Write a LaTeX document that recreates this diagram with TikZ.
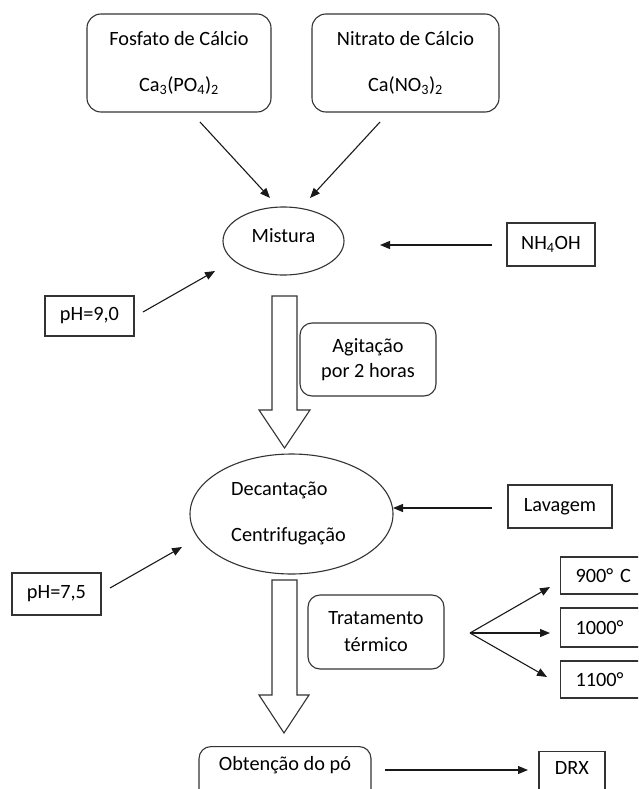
\documentclass[tikz,border=0pt]{standalone}
\usepackage{fontspec}
\setmainfont{Carlito}
\usetikzlibrary{shapes.geometric,arrows.meta}
\begin{document}
\begin{tikzpicture}[x=1pt,y=-1pt,
  every node/.style={font=\fontsize{20.3}{24}\selectfont, text=black, inner sep=0pt},
  rbox/.style={draw=black!80, line width=1.1pt, rounded corners=14pt},
  sbox/.style={draw=black!80, line width=1.1pt},
  oval/.style={draw=black!80, line width=1.1pt, ellipse},
  conn/.style={draw=black!90, line width=1.1pt, -{Triangle[length=10pt,width=8pt]}},
  blockarrow/.style={draw=black!80, line width=1.1pt, fill=white, line join=miter}]
\useasboundingbox (0,0) rectangle (638,789);
\clip (0,0) rectangle (638,789);

% top boxes
\node[rbox, minimum width=184, minimum height=98, align=center] (fosfato) at (179,63)
  {Fosfato de Cálcio\\[22pt]Ca\textsubscript{3}(PO\textsubscript{4})\textsubscript{2}};
\node[rbox, minimum width=187, minimum height=98, align=center] (nitrato) at (405.5,63)
  {Nitrato de Cálcio\\[22pt]Ca(NO\textsubscript{3})\textsubscript{2}};

% Mistura
\node[oval, minimum width=121, minimum height=68] (mistura) at (283.5,241) {};
\node (misturat) at (283.5,236) {Mistura};
\node[sbox, minimum width=88, minimum height=43] (nh4oh) at (551,244.5) {NH\textsubscript{4}OH};
\node[sbox, minimum width=89, minimum height=40] (ph9) at (89.5,316) {pH=9,0};

\coordinate (f1) at (200,122);
\coordinate (m1) at (270,198);
\coordinate (n1) at (380,122);
\coordinate (m2) at (310,198);
\coordinate (m3) at (215,271);
\coordinate (p9) at (143,312);
\coordinate (m4) at (380,245);
\coordinate (h4) at (492,245);
\draw[conn] (f1) -- (m1);
\draw[conn] (n1) -- (m2);
\draw[conn] (p9) -- (m3);
\draw[conn] (h4) -- (m4);

% block arrow 1
\draw[blockarrow] (272,296) -- (297,296) -- (297,410) -- (310,410) -- (284.5,448) -- (259,410) -- (272,410) -- cycle;
\node[rbox, rounded corners=12pt, minimum width=136, minimum height=73, align=center] (agit) at (368,359.5)
  {Agitação\\[1pt]por 2 horas};

% Decantacao
\node[oval, minimum width=203, minimum height=120] (decant) at (291.5,514) {};
\node[align=left, anchor=west] (decantt) at (231,513) {Decantação\\[22pt]Centrifugação};
\node[sbox, minimum width=104, minimum height=43] (lavagem) at (560,506.5) {Lavagem};
\node[sbox, minimum width=89, minimum height=42] (ph75) at (56.5,594) {pH=7,5};
\coordinate (d1) at (393,508);
\coordinate (l1) at (492,508);
\coordinate (d2) at (182,547);
\coordinate (p75) at (110,588);
\draw[conn] (l1) -- (d1);
\draw[conn] (p75) -- (d2);

% block arrow 2
\draw[blockarrow] (272,580) -- (297,580) -- (297,695) -- (309,695) -- (284,733) -- (259,695) -- (272,695) -- cycle;
\node[rbox, rounded corners=12pt, minimum width=136, minimum height=74, align=center] (trat) at (376,632)
  {Tratamento\\[3pt]térmico};

% temperatures
\node[sbox, minimum height=37, text width=60, inner xsep=15pt, align=left, anchor=west] (t900) at (560,575.5) {900° C};
\node[sbox, minimum height=39, text width=60, inner xsep=15pt, align=left, anchor=west] (t1000) at (560,627.5) {1000°};
\node[sbox, minimum height=37, text width=60, inner xsep=15pt, align=left, anchor=west] (t1100) at (560,679.5) {1100°};
\coordinate (fan) at (470,633);
\coordinate (e900) at (550,587);
\coordinate (e1000) at (550,633);
\coordinate (e1100) at (547,677);
\draw[conn] (fan) -- (e900);
\draw[conn] (fan) -- (e1000);
\draw[conn] (fan) -- (e1100);

% final
\node[rbox, rounded corners=12pt, minimum width=172, minimum height=80, anchor=north] (obt) at (285,746) {};
\node (obtt) at (285,765) {Obtenção do pó};
\node[sbox, minimum width=66, minimum height=60, anchor=north] (drx) at (572,751) {};
\node (drxt) at (572,768) {DRX};
\coordinate (o1) at (385,770);
\coordinate (x1) at (528,770);
\draw[conn] (o1) -- (x1);
\end{tikzpicture}
\end{document}
